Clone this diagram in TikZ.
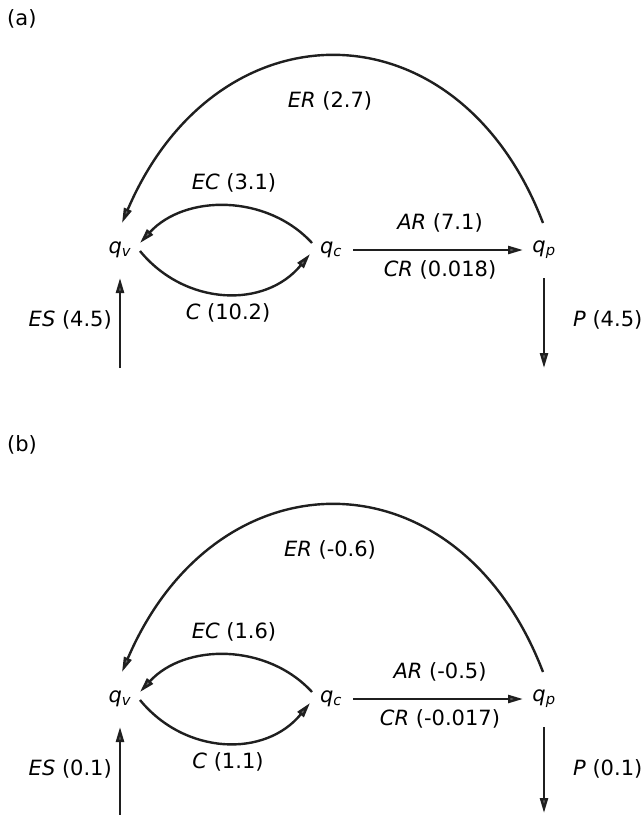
\documentclass[tikz,border=0pt]{standalone}
\usepackage{fontspec}
\setmainfont{DejaVu Sans}
\usepackage{tikz}
\usetikzlibrary{arrows.meta, positioning, calc}
\tikzset{state/.style={inner sep=1pt,font=\fontsize{21}{25}\selectfont},
    rate/.style={inner sep=0pt,font=\fontsize{21}{25}\selectfont},
    flow/.style={draw=black!88,line width=2.4pt,
        -{Triangle[length=15pt,width=8pt,fill=black!60]}},
    panel/.style={inner sep=0pt,anchor=west,font=\fontsize{21}{25}\selectfont}}
\newcommand{\qsub}[1]{\textit{q}\textsubscript{\textit{#1}}}

\begin{document}
\begin{tikzpicture}[x=1pt,y=-1pt]
\useasboundingbox (0,0) rectangle (642,815);

% Panel (a)
\node[panel] (taga) at (7,19) {(a)};
\node[state] (qva) at (120,250) {\qsub{v}};
\node[state] (qca) at (331,250) {\qsub{c}};
\node[state] (qpa) at (544,250) {\qsub{p}};
\coordinate (esa) at (120,368);
\coordinate (pa) at (544,368);

% Fluxes of panel (a)
\draw[flow] ($(qpa)+(-1,-27)$) .. controls +(-85,-222) and +(95,-222) .. ($(qva)+(2,-27)$);
\draw[flow] ($(qca)+(-19,-7)$) .. controls +(-45,-49) and +(45,-49) .. ($(qva)+(20,-7)$);
\draw[flow] ($(qva)+(20,1)$) .. controls +(45,55) and +(-45,55) .. ($(qca)+(-21,4)$);
\draw[flow] ($(qca)+(22,0)$) -- ($(qpa)+(-21,0)$);
\draw[flow] (esa) -- ($(qva)+(0,28)$);
\draw[flow] ($(qpa)+(0,28)$) -- (pa);

% Labels of panel (a)
\node[rate] (era) at (330,101) {\textit{ER} (2.7)};
\node[rate] (eca) at (234,183) {\textit{EC} (3.1)};
\node[rate] (ca) at (228,313) {\textit{C} (10.2)};
\node[rate] (ara) at (440,223) {\textit{AR} (7.1)};
\node[rate] (cra) at (440,270) {\textit{CR} (0.018)};
\node[rate,anchor=east] (lesa) at (112,320) {\textit{ES} (4.5)};
\node[rate,anchor=west] (lpa) at (573,320) {\textit{P} (4.5)};

% Panel (b)
\begin{scope}[shift={(0,449)}]
\node[panel] (tagb) at (7,-4) {(b)};
\node[state] (qvb) at (120,250) {\qsub{v}};
\node[state] (qcb) at (331,250) {\qsub{c}};
\node[state] (qpb) at (544,250) {\qsub{p}};
\coordinate (esb) at (120,366);
\coordinate (pb) at (544,364);

% Fluxes of panel (b)
\draw[flow] ($(qpb)+(-1,-27)$) .. controls +(-85,-222) and +(95,-222) .. ($(qvb)+(2,-27)$);
\draw[flow] ($(qcb)+(-19,-7)$) .. controls +(-45,-49) and +(45,-49) .. ($(qvb)+(20,-7)$);
\draw[flow] ($(qvb)+(20,1)$) .. controls +(45,55) and +(-45,55) .. ($(qcb)+(-21,4)$);
\draw[flow] ($(qcb)+(22,0)$) -- ($(qpb)+(-21,0)$);
\draw[flow] (esb) -- ($(qvb)+(0,28)$);
\draw[flow] ($(qpb)+(0,28)$) -- (pb);

% Labels of panel (b)
\node[rate] (erb) at (330,101) {\textit{ER} (-0.6)};
\node[rate] (ecb) at (234,183) {\textit{EC} (1.6)};
\node[rate] (cb) at (228,313) {\textit{C} (1.1)};
\node[rate] (arb) at (440,223) {\textit{AR} (-0.5)};
\node[rate] (crb) at (440,270) {\textit{CR} (-0.017)};
\node[rate,anchor=east] (lesb) at (112,320) {\textit{ES} (0.1)};
\node[rate,anchor=west] (lpb) at (573,320) {\textit{P} (0.1)};
\end{scope}
\end{tikzpicture}
\end{document}
